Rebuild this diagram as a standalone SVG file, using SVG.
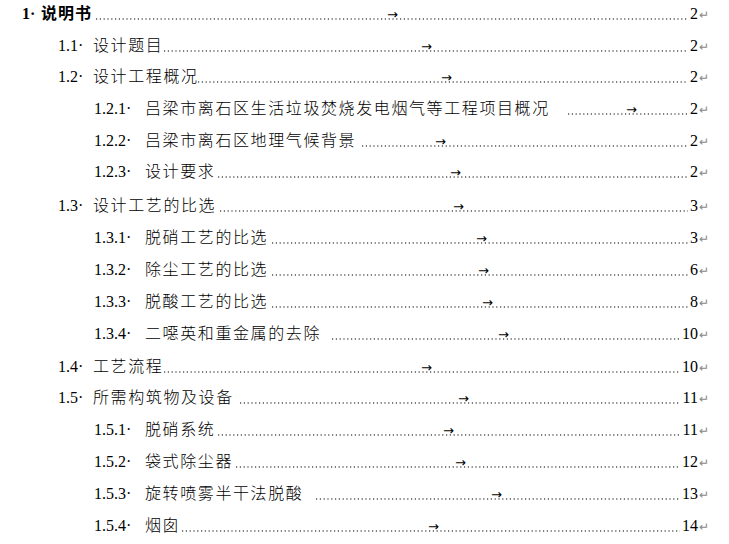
<svg xmlns="http://www.w3.org/2000/svg" width="729" height="544" viewBox="0 0 729 544">
<style>
text{font-family:"Liberation Serif","Noto Sans CJK SC",serif;font-size:16px;fill:#000}
.c{font-family:"Noto Sans CJK SC",sans-serif;font-size:16px;letter-spacing:1.6px;font-weight:300}
.b{font-weight:bold}
.b .c{font-weight:bold;letter-spacing:1px}
.n{text-anchor:end}
.a{font-family:"DejaVu Sans",sans-serif;font-size:13px}
.r{fill:#888;font-size:12px}
.d{stroke:#000;stroke-width:1.2;stroke-dasharray:1.2 2.6}
</style>
<rect width="729" height="544" fill="#fff"/>
<g id="toc">
<g id="r1"><text x="22" y="19" class="b">1·<tspan x="41" class="c">说明书</tspan></text><line class="d" x1="96" y1="19" x2="688" y2="19"/><text x="387" y="19" class="a">→</text><text x="698" y="19" class="n">2</text><text x="699" y="19" class="r">↵</text></g>
<g id="r2"><text x="58" y="51">1.1·<tspan x="93" class="c">设计题目</tspan></text><line class="d" x1="164" y1="51" x2="688" y2="51"/><text x="421" y="51" class="a">→</text><text x="698" y="51" class="n">2</text><text x="699" y="51" class="r">↵</text></g>
<g id="r3"><text x="58" y="82">1.2·<tspan x="93" class="c">设计工程概况</tspan></text><line class="d" x1="198" y1="82" x2="688" y2="82"/><text x="441" y="82" class="a">→</text><text x="698" y="82" class="n">2</text><text x="699" y="82" class="r">↵</text></g>
<g id="r4"><text x="94" y="114">1.2.1·<tspan x="145" class="c">吕梁市离石区生活垃圾焚烧发电烟气等工程项目概况</tspan></text><line class="d" x1="568" y1="114" x2="688" y2="114"/><text x="626" y="114" class="a">→</text><text x="698" y="114" class="n">2</text><text x="699" y="114" class="r">↵</text></g>
<g id="r5"><text x="94" y="146">1.2.2·<tspan x="145" class="c">吕梁市离石区地理气候背景</tspan></text><line class="d" x1="362" y1="146" x2="688" y2="146"/><text x="435" y="146" class="a">→</text><text x="698" y="146" class="n">2</text><text x="699" y="146" class="r">↵</text></g>
<g id="r6"><text x="94" y="177">1.2.3·<tspan x="145" class="c">设计要求</tspan></text><line class="d" x1="218" y1="177" x2="688" y2="177"/><text x="450" y="177" class="a">→</text><text x="698" y="177" class="n">2</text><text x="699" y="177" class="r">↵</text></g>
<g id="r7"><text x="58" y="211">1.3·<tspan x="93" class="c">设计工艺的比选</tspan></text><line class="d" x1="220" y1="211" x2="688" y2="211"/><text x="453" y="211" class="a">→</text><text x="698" y="211" class="n">3</text><text x="699" y="211" class="r">↵</text></g>
<g id="r8"><text x="94" y="243">1.3.1·<tspan x="145" class="c">脱硝工艺的比选</tspan></text><line class="d" x1="272" y1="243" x2="688" y2="243"/><text x="476" y="243" class="a">→</text><text x="698" y="243" class="n">3</text><text x="699" y="243" class="r">↵</text></g>
<g id="r9"><text x="94" y="275">1.3.2·<tspan x="145" class="c">除尘工艺的比选</tspan></text><line class="d" x1="272" y1="275" x2="688" y2="275"/><text x="478" y="275" class="a">→</text><text x="698" y="275" class="n">6</text><text x="699" y="275" class="r">↵</text></g>
<g id="r10"><text x="94" y="307">1.3.3·<tspan x="145" class="c">脱酸工艺的比选</tspan></text><line class="d" x1="272" y1="307" x2="688" y2="307"/><text x="482" y="307" class="a">→</text><text x="698" y="307" class="n">8</text><text x="699" y="307" class="r">↵</text></g>
<g id="r11"><text x="94" y="339">1.3.4·<tspan x="145" class="c">二噁英和重金属的去除</tspan></text><line class="d" x1="332" y1="339" x2="680" y2="339"/><text x="498" y="339" class="a">→</text><text x="698" y="339" class="n">10</text><text x="699" y="339" class="r">↵</text></g>
<g id="r12"><text x="58" y="372">1.4·<tspan x="93" class="c">工艺流程</tspan></text><line class="d" x1="164" y1="372" x2="680" y2="372"/><text x="421" y="372" class="a">→</text><text x="698" y="372" class="n">10</text><text x="699" y="372" class="r">↵</text></g>
<g id="r13"><text x="58" y="403">1.5·<tspan x="93" class="c">所需构筑物及设备</tspan></text><line class="d" x1="240" y1="403" x2="680" y2="403"/><text x="458" y="403" class="a">→</text><text x="698" y="403" class="n">11</text><text x="699" y="403" class="r">↵</text></g>
<g id="r14"><text x="94" y="435">1.5.1·<tspan x="145" class="c">脱硝系统</tspan></text><line class="d" x1="218" y1="435" x2="680" y2="435"/><text x="443" y="435" class="a">→</text><text x="698" y="435" class="n">11</text><text x="699" y="435" class="r">↵</text></g>
<g id="r15"><text x="94" y="467">1.5.2·<tspan x="145" class="c">袋式除尘器</tspan></text><line class="d" x1="236" y1="467" x2="680" y2="467"/><text x="455" y="467" class="a">→</text><text x="698" y="467" class="n">12</text><text x="699" y="467" class="r">↵</text></g>
<g id="r16"><text x="94" y="499">1.5.3·<tspan x="145" class="c">旋转喷雾半干法脱酸</tspan></text><line class="d" x1="316" y1="499" x2="680" y2="499"/><text x="491" y="499" class="a">→</text><text x="698" y="499" class="n">13</text><text x="699" y="499" class="r">↵</text></g>
<g id="r17"><text x="94" y="531">1.5.4·<tspan x="145" class="c">烟囱</tspan></text><line class="d" x1="182" y1="531" x2="680" y2="531"/><text x="428" y="531" class="a">→</text><text x="698" y="531" class="n">14</text><text x="699" y="531" class="r">↵</text></g>
</g>
</svg>
